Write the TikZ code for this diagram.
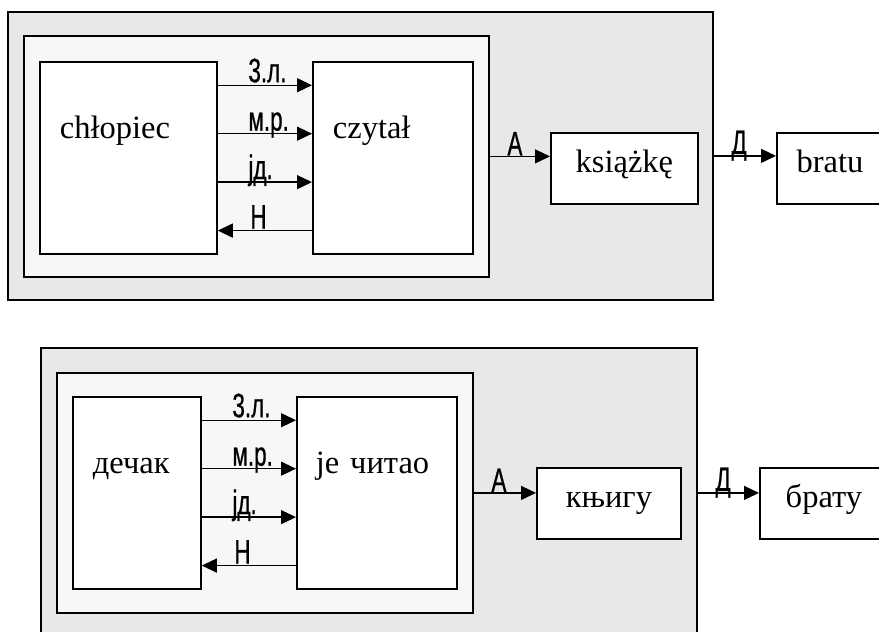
\documentclass[tikz,border=0pt]{standalone}
\usepackage{fontspec}
\setmainfont{Liberation Serif}
\newfontfamily\narrowsans[FakeStretch=0.66, FakeBold=0.6]{Liberation Sans}
\usetikzlibrary{arrows.meta, calc}
\definecolor{OuterGray}{RGB}{232, 232, 232}
\definecolor{InnerGray}{RGB}{247, 247, 247}

\begin{document}
\begin{tikzpicture}[
    x=1pt, y=-1pt, % pixel-like units, y pointing down
    >={Triangle[length=15pt, width=14pt]},
    panel/.style={draw, line width=1.8pt, anchor=north west, inner sep=0pt},
    bigbox/.style={draw, fill=white, line width=1.8pt, anchor=north west, inner xsep=20pt, inner ysep=0pt,
        text height=77pt, text depth=115pt, align=left, font=\fontsize{32.5pt}{36pt}\selectfont},
    wordbox/.style={draw, fill=white, line width=1.8pt, anchor=north west, inner sep=0pt,
        text height=40pt, text depth=31pt, font=\fontsize{32.5pt}{36pt}\selectfont},
    feat/.style={font=\narrowsans\fontsize{34pt}{38pt}\selectfont, inner sep=0pt, anchor=base west},
    link/.style={->, line width=1.3pt}
]
\useasboundingbox (0,0) rectangle (879,632);

% --- Polish sentence (top) ---
\node[panel, fill=OuterGray, minimum width=705pt, minimum height=288pt] (outerA) at (7,11) {};
\node[panel, fill=InnerGray, minimum width=465pt, minimum height=241pt] (innerA) at (23,35) {};
\node[bigbox, text width=137pt] (boyA) at (39,61) {chłopiec};
\node[bigbox, text width=120pt] (verbA) at (312,61) {czytał};
\node[wordbox, minimum width=147pt] (objA) at (550,132) {książkę};
\node[wordbox, minimum width=106pt] (datA) at (776,132) {bratu};

% --- Serbian sentence (bottom) ---
\node[panel, fill=OuterGray, minimum width=656pt, minimum height=290pt] (outerB) at (40,347) {};
\node[panel, fill=InnerGray, minimum width=416pt, minimum height=240pt] (innerB) at (56,372) {};
\node[bigbox, text width=88pt] (boyB) at (72,396) {дечак};
\node[bigbox, text width=122pt, inner xsep=19pt] (verbB) at (296,396) {је читао};
\node[wordbox, minimum width=144pt] (objB) at (536,467) {књигу};
\node[wordbox, minimum width=128pt] (datB) at (759,467) {брату};

% --- Agreement and government arrows ---
\foreach \p in {A,B}
{
    \foreach \f/\lbl in {0.125/3.л., 0.375/м.р., 0.625/јд.}
        \draw[link] ($(boy\p.north east)!\f!(boy\p.south east)$) -- ($(verb\p.north west)!\f!(verb\p.south west)$)
            node[feat, at start, xshift=30pt, yshift=3pt] {\lbl};

    % subject case comes back from the verb
    \draw[link] ($(verb\p.north west)!0.875!(verb\p.south west)$) -- ($(boy\p.north east)!0.875!(boy\p.south east)$)
        node[feat, at end, xshift=32pt, yshift=2pt] {Н};

    \draw[link] (inner\p.east) -- (inner\p.east -| obj\p.west)
        node[feat, at start, xshift=17pt, yshift=1pt] {А};
    \draw[link] (outer\p.east) -- (outer\p.east -| dat\p.west)
        node[feat, at start, xshift=17pt, yshift=2pt] {Д};
}

\end{tikzpicture}
\end{document}
